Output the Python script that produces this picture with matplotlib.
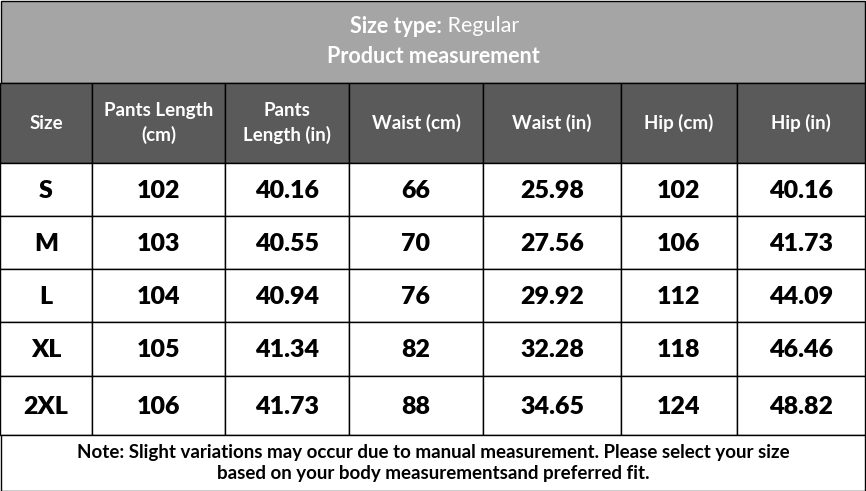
import matplotlib
matplotlib.use("Agg")
import matplotlib.pyplot as plt
from matplotlib.patches import Rectangle

title1_bold = "Size type:"
title1_rest = " Regular"
title2 = "Product measurement"
headers = ["Size", "Pants Length\n(cm)", "Pants\nLength (in)", "Waist (cm)", "Waist (in)", "Hip (cm)", "Hip (in)"]
sizes = ["S", "M", "L", "XL", "2XL"]
pants_cm = ["102", "103", "104", "105", "106"]
pants_in = ["40.16", "40.55", "40.94", "41.34", "41.73"]
waist_cm = ["66", "70", "76", "82", "88"]
waist_in = ["25.98", "27.56", "29.92", "32.28", "34.65"]
hip_cm = ["102", "106", "112", "118", "124"]
hip_in = ["40.16", "41.73", "44.09", "46.46", "48.82"]
note = "Note: Slight variations may occur due to manual measurement. Please select your size\nbased on your body measurementsand preferred fit."

cols = [0, 92, 225, 349, 483, 621, 737, 865]
rows = [163, 216, 269, 322, 376, 435]
FONT = "Lato"

fig = plt.figure(figsize=(8.66, 4.91), dpi=100)
ax = fig.add_axes([0, 0, 1, 1])
ax.set_xlim(0, 866); ax.set_ylim(491, 0); ax.axis("off")

def rect(x0, y0, x1, y1, fc):
    ax.add_patch(Rectangle((x0, y0), x1 - x0, y1 - y0, facecolor=fc, edgecolor="black", lw=1))

rect(0.5, 0.5, 865, 83, "#a5a5a5")
ax.text(442, 26, title1_bold, ha="right", va="center", color="white", fontsize=15.5, fontweight="bold", family=FONT)
ax.text(442, 26, title1_rest, ha="left", va="center", color="white", fontsize=15.5, family=FONT)
ax.text(433, 56, title2, ha="center", va="center", color="white", fontsize=15.5, fontweight="bold", family=FONT)

for i, h in enumerate(headers):
    rect(cols[i], 83, cols[i + 1], 163, "#5a5a5a")
    ax.text((cols[i] + cols[i + 1]) / 2, 123, h, ha="center", va="center", color="white",
            fontsize=13.5, fontweight="bold", family=FONT, linespacing=1.4)

data = list(zip(sizes, pants_cm, pants_in, waist_cm, waist_in, hip_cm, hip_in))
for r, rowvals in enumerate(data):
    for c, v in enumerate(rowvals):
        rect(cols[c], rows[r], cols[c + 1], rows[r + 1], "white")
        ax.text((cols[c] + cols[c + 1]) / 2, (rows[r] + rows[r + 1]) / 2 + 1, v, ha="center", va="center",
                color="black", fontsize=18, fontweight="heavy", family=FONT)

rect(0.5, 435, 865, 490.5, "white")
ax.text(433, 463, note, ha="center", va="center", color="black", fontsize=13.5, fontweight="bold",
        family=FONT, linespacing=1.3)

fig.savefig("out.png", dpi=100)
